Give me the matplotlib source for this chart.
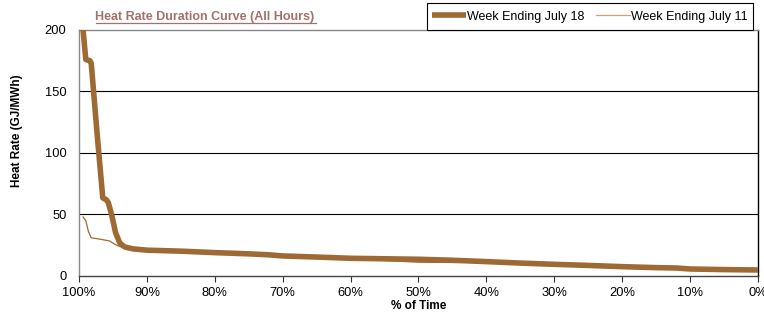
import matplotlib
matplotlib.use('Agg')
import matplotlib.pyplot as plt
from matplotlib.ticker import FixedLocator

plt.rcParams['font.family'] = ['Liberation Sans', 'DejaVu Sans']

# % of time (duration curve, 100% at left) and heat rate GJ/MWh
pct_jul18 = [99.8, 99.4, 99.0, 98.4, 98.2, 97.4, 96.5, 96.0, 95.7, 95.2, 94.6, 94.0, 93.5, 93.2,
             92.0, 90.0, 85.0, 80.0, 75.0, 72.0, 70.0, 65.0, 60.0, 55.0, 50.0, 45.0, 40.0,
             35.0, 30.0, 25.0, 20.0, 15.0, 12.0, 10.0, 5.0, 0.0]
hr_jul18 = [230, 200, 176, 175, 173, 120, 63.5, 62, 60, 50, 35, 27, 24.5, 23.5,
            22, 21, 20.2, 19, 18, 17.2, 16.3, 15.4, 14.4, 14.0, 13.6, 12.8, 11.7,
            10.5, 9.5, 8.6, 7.6, 6.8, 6.5, 5.7, 5.2, 4.9]

pct_jul11 = [99.4, 99.0, 98.6, 98.2, 97.5, 96.5, 96.0, 95.5, 94.8, 94.0, 93.2,
             92.0, 90.0, 85.0, 80.0, 75.0, 70.0, 65.0, 60.0, 55.0, 50.0, 45.0, 40.0,
             35.0, 30.0, 25.0, 20.0, 15.0, 10.0, 5.0, 0.0]
hr_jul11 = [48, 45, 36, 31, 30.5, 29.5, 29.0, 28.5, 26, 24, 23,
            21.8, 20.8, 20.0, 18.8, 17.8, 16.0, 15.0, 14.0, 12.6, 11.2, 11.0, 11.2,
            10.3, 9.3, 8.4, 7.4, 6.6, 5.5, 5.0, 4.7]

xticks = [100, 90, 80, 70, 60, 50, 40, 30, 20, 10, 0]
yticks = [0, 50, 100, 150, 200]

brown = '#9E6933'

fig = plt.figure(figsize=(7.64, 3.12), dpi=100)
ax = fig.add_axes([0.1034, 0.1154, 0.8886, 0.7886])

ax.plot(pct_jul18, hr_jul18, color=brown, lw=4, solid_capstyle='butt',
        label='Week Ending July 18', zorder=3)
ax.plot(pct_jul11, hr_jul11, color=brown, lw=0.9,
        label='Week Ending July 11', zorder=2)

ax.set_xlim(100, 0)
ax.set_ylim(0, 200)
ax.xaxis.set_major_locator(FixedLocator(xticks))
ax.set_xticklabels([f'{t}%' for t in xticks], fontsize=9.3)
ax.yaxis.set_major_locator(FixedLocator(yticks))
ax.set_yticklabels([str(t) for t in yticks], fontsize=9.3)
ax.tick_params(axis='y', length=0, pad=9)
ax.tick_params(axis='x', length=4, direction='out', color='#333333', pad=4)

for y in [50, 100, 150]:
    ax.axhline(y, color='black', lw=0.8, zorder=1)

ax.spines['left'].set_color('#888888')
ax.spines['top'].set_color('#888888')
ax.spines['right'].set_color('black')
ax.spines['bottom'].set_color('#444444')
for s in ax.spines.values():
    s.set_linewidth(1)

fig.text(17 / 764, 1 - 131 / 312, 'Heat Rate (GJ/MWh)', rotation=90, ha='center', va='center',
         fontsize=8.5, fontweight='bold')
ax.set_xlabel('% of Time', fontsize=8.5, fontweight='bold', labelpad=1)

fig.text(0.268, 0.946, 'Heat Rate Duration Curve (All Hours)', ha='center', va='center',
         fontsize=9, fontweight='bold', color='#A4706C')
fig.add_artist(plt.Line2D([0.125, 0.413], [0.925, 0.925], color='#A4706C', lw=0.9))

leg = fig.legend(loc='upper right', bbox_to_anchor=(753 / 764, 1 - 3 / 312), ncol=2,
                 fontsize=9, frameon=True, fancybox=False, shadow=False,
                 handlelength=2.7, handleheight=1.5, handletextpad=0.1, columnspacing=0.9,
                 borderpad=0.45, borderaxespad=0, edgecolor='black', framealpha=1)
leg.get_frame().set_linewidth(0.8)
leg.legend_handles[1].set_color('#C9A27E')

fig.savefig('out.png', dpi=100)
